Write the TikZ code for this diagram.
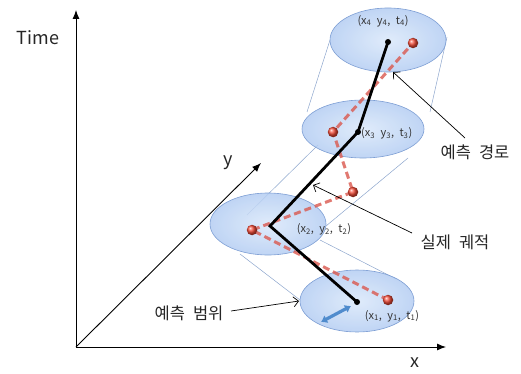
\documentclass[tikz,border=0pt]{standalone}
\usepackage{fontspec}
\setmainfont{Noto Sans CJK KR}
\newfontfamily\labfont{Noto Sans CJK KR}[WordSpace=3.2]
\newfontfamily\crdfont{Noto Sans CJK KR}[WordSpace=2.2]
\usetikzlibrary{arrows.meta,shapes.geometric}
\definecolor{disklinec}{RGB}{125,158,212}
\definecolor{diskin}{RGB}{218,232,250}
\definecolor{diskout}{RGB}{180,205,242}
\definecolor{cylc}{RGB}{140,165,205}
\definecolor{realc}{RGB}{218,88,78}
\definecolor{ballc}{RGB}{245,75,55}
\definecolor{radc}{RGB}{80,140,205}
\begin{document}
\begin{tikzpicture}[x=1pt,y=-1pt,
  axis/.style={line width=0.9pt,-{Latex[length=9pt,width=7pt]}},
  cyl/.style={draw=cylc,line width=0.5pt},
  disk/.style={ellipse,draw=disklinec,line width=0.6pt,inner color=diskin,outer color=diskout,fill opacity=0.85,inner sep=0pt},
  pred/.style={line width=2.8pt,black},
  real/.style={line width=3pt,draw=realc,draw opacity=0.8,dash pattern=on 7pt off 4pt},
  ptr/.style={line width=0.7pt,-{Straight Barb[length=5pt,width=10pt]}},
  crd/.style={font=\crdfont\fontsize{11}{12}\selectfont,inner sep=0pt,text=black!80},
  lab/.style={font=\labfont\fontsize{16.5}{18}\selectfont,inner sep=0pt,text=black!85},
  axl/.style={font=\fontsize{18}{20}\selectfont,inner sep=0pt,text=black!85},
  ball/.style={circle,inner sep=0pt,minimum size=10.5pt,shading=ball,ball color=ballc},
  bdot/.style={circle,inner sep=0pt,minimum size=6pt,fill=black}]
\useasboundingbox (0,0) rectangle (521,374);
% axes
\coordinate (O) at (76,347);
\coordinate (T) at (76,10);
\coordinate (X) at (446,347);
\coordinate (Y) at (261,163);
\draw[axis] (O) -- (T);
\draw[axis] (O) -- (X);
\draw[axis] (O) -- (Y);
\node[axl] (tl) at (38,38) {Time};
\node[axl] (xl) at (415,363) {x};
\node[axl] (yl) at (228,163) {y};
% cylinder lines
\coordinate (c1a) at (240,254); \coordinate (c1b) at (300,300);
\coordinate (c2a) at (320,240); \coordinate (c2b) at (396,279);
\coordinate (c3a) at (247,215); \coordinate (c3b) at (318,145);
\coordinate (c4a) at (326,226); \coordinate (c4b) at (408,158);
\coordinate (c5a) at (307,112); \coordinate (c5b) at (330,40);
\coordinate (c6a) at (430,112); \coordinate (c6b) at (447,37);
\draw[cyl] (c1a) -- (c1b);
\draw[cyl] (c2a) -- (c2b);
\draw[cyl] (c3a) -- (c3b);
\draw[cyl] (c4a) -- (c4b);
\draw[cyl] (c5a) -- (c5b);
\draw[cyl] (c6a) -- (c6b);
% disks
\node[disk,minimum width=114pt,minimum height=62pt] (E1) at (357,301) {};
\node[disk,minimum width=116pt,minimum height=62pt] (E2) at (268,224) {};
\node[disk,minimum width=122pt,minimum height=58pt] (E3) at (363,129) {};
\node[disk,minimum width=116pt,minimum height=64pt] (E4) at (388,40) {};
% radius arrow
\coordinate (ra) at (351,306);
\coordinate (rb) at (321,322);
\draw[radc,line width=3.2pt,{Latex[length=6pt,width=9pt]}-{Latex[length=6pt,width=9pt]}] (ra) -- (rb);
% real trajectory
\coordinate (R1) at (388,300);
\coordinate (R2) at (252,230);
\coordinate (R3) at (353,192);
\coordinate (R4) at (333,132);
\coordinate (R5) at (413,43);
\draw[real] (R1) -- (R2) -- (R3) -- (R4) -- (R5);
% predicted path
\coordinate (P1) at (357,302);
\coordinate (P2) at (270,226);
\coordinate (P3) at (358,132);
\coordinate (P4) at (388,42);
\draw[pred] (P1) -- (P2) -- (P3) -- (P4);
\foreach \r in {R1,R2,R3,R4,R5} \node[ball] at (\r) {};
\node[bdot] (d1) at (P1) {};
\node[bdot] (d3) at (P3) {};
\node[bdot] (d4) at (P4) {};
% coordinate labels
\node[crd] (L4) at (383,21) {(x\textsubscript{4} y\textsubscript{4}, t\textsubscript{4})};
\node[crd,anchor=west] (L3) at (361,133) {(x\textsubscript{3} y\textsubscript{3}, t\textsubscript{3})};
\node[crd] (L2) at (324,229) {(x\textsubscript{2}, y\textsubscript{2}, t\textsubscript{2})};
\node[crd] (L1) at (392,316) {(x\textsubscript{1}, y\textsubscript{1}, t\textsubscript{1})};
% korean labels with pointers
\node[lab] (k1) at (475,152) {예측 경로};
\node[lab] (k2) at (455,242) {실제 궤적};
\node[lab] (k3) at (189,313) {예측 범위};
\coordinate (k1s) at (465,138); \coordinate (k1t) at (393,72);
\coordinate (k2s) at (412,233); \coordinate (k2t) at (313,185);
\coordinate (k3s) at (231,311); \coordinate (k3t) at (299,301);
\draw[ptr] (k1s) -- (k1t);
\draw[ptr] (k2s) -- (k2t);
\draw[ptr] (k3s) -- (k3t);
\end{tikzpicture}
\end{document}
